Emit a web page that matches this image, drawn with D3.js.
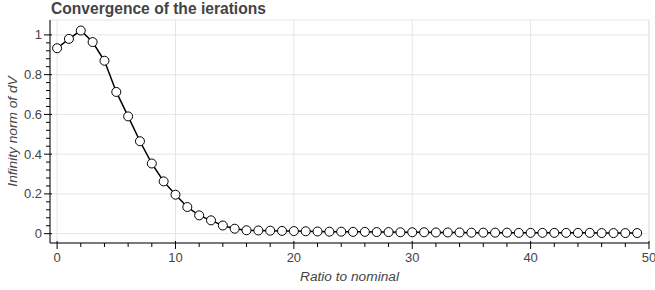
<!DOCTYPE html>
<html>
<head>
<meta charset="UTF-8">
<script src="https://d3js.org/d3.v7.min.js"></script>
<style>
  body { margin: 0; background: #fff; }
  svg { display: block; overflow: visible; }
  text { font-family: "Liberation Sans", Arial, Helvetica, sans-serif; }
</style>
</head>
<body>
<div id="chart"></div>
<script>
const titleText = "Convergence of the ierations";
const xLabel = "Ratio to nominal";
const yLabel = "Infinity norm of dV";

const iterations = d3.range(0, 50);
const dvNorm = [
  0.933, 0.980, 1.022, 0.964, 0.870, 0.713, 0.590, 0.465, 0.353, 0.263,
  0.196, 0.134, 0.092, 0.067, 0.041, 0.025, 0.017, 0.016, 0.015, 0.014,
  0.013, 0.012, 0.011, 0.010, 0.010, 0.009, 0.009, 0.008, 0.008, 0.007,
  0.007, 0.007, 0.006, 0.006, 0.006, 0.005, 0.005, 0.005, 0.005, 0.004,
  0.004, 0.004, 0.004, 0.004, 0.004, 0.004, 0.003, 0.003, 0.003, 0.003
];
const xTicks = [0, 10, 20, 30, 40, 50];
const yTicks = [0, 0.2, 0.4, 0.6, 0.8, 1];

const width = 655, height = 290;
const margin = { top: 20, right: 6, bottom: 47, left: 50 };
const w = width - margin.left - margin.right;
const h = height - margin.top - margin.bottom;

const svg = d3.select("#chart").append("svg")
  .attr("width", width).attr("height", height);

const x = d3.scaleLinear().domain([-0.6, 50]).range([0, w]);
const y = d3.scaleLinear().domain([-0.047, 1.075]).range([h, 0]);

const g = svg.append("g").attr("transform", `translate(${margin.left},${margin.top})`);

// outline + grid
g.append("rect").attr("x", 0).attr("y", 0).attr("width", w).attr("height", h)
  .attr("fill", "none").attr("stroke", "#e5e5e5");
g.selectAll(".gx").data(xTicks).enter().append("line")
  .attr("x1", d => x(d)).attr("x2", d => x(d)).attr("y1", 0).attr("y2", h)
  .attr("stroke", "#e5e5e5");
g.selectAll(".gy").data(yTicks).enter().append("line")
  .attr("x1", 0).attr("x2", w).attr("y1", d => y(d)).attr("y2", d => y(d))
  .attr("stroke", "#e5e5e5");

// axes
const xMinor = d3.range(0, 51, 2).filter(d => d % 10 !== 0);
const yMinor = d3.range(0, 26).map(i => +(i * 0.04).toFixed(2)).filter(d => Math.round(d * 100) % 20 !== 0);

const xAxis = g.append("g").attr("transform", `translate(0,${h})`);
xAxis.append("line").attr("x1", 0).attr("x2", w).attr("stroke", "#000");
xAxis.selectAll(".mj").data(xTicks).enter().append("line")
  .attr("x1", d => x(d)).attr("x2", d => x(d)).attr("y1", -2).attr("y2", 6).attr("stroke", "#000");
xAxis.selectAll(".mn").data(xMinor).enter().append("line")
  .attr("x1", d => x(d)).attr("x2", d => x(d)).attr("y1", 0).attr("y2", 4).attr("stroke", "#000");
xAxis.selectAll(".lb").data(xTicks).enter().append("text")
  .attr("x", d => x(d)).attr("y", 19).attr("text-anchor", "middle")
  .attr("font-size", 13).attr("fill", "#444").text(d => d);

const yAxis = g.append("g");
yAxis.append("line").attr("y1", 0).attr("y2", h).attr("stroke", "#000");
yAxis.selectAll(".mj").data(yTicks).enter().append("line")
  .attr("y1", d => y(d)).attr("y2", d => y(d)).attr("x1", 2).attr("x2", -6).attr("stroke", "#000");
yAxis.selectAll(".mn").data(yMinor).enter().append("line")
  .attr("y1", d => y(d)).attr("y2", d => y(d)).attr("x1", 0).attr("x2", -4).attr("stroke", "#000");
yAxis.selectAll(".lb").data(yTicks).enter().append("text")
  .attr("x", -8).attr("y", d => y(d)).attr("dy", "0.35em").attr("text-anchor", "end")
  .attr("font-size", 13).attr("fill", "#444").text(d => d);

// labels
svg.append("text").attr("x", margin.left + w / 2).attr("y", 281)
  .attr("text-anchor", "middle").attr("font-size", 13.7).attr("font-style", "italic")
  .attr("fill", "#444").text(xLabel);
svg.append("text").attr("transform", `translate(17,${margin.top + h / 2}) rotate(-90)`)
  .attr("text-anchor", "middle").attr("font-size", 13.7).attr("font-style", "italic")
  .attr("fill", "#444").text(yLabel);
svg.append("text").attr("x", margin.left + 1).attr("y", 13.5)
  .attr("font-size", 15.6).attr("font-weight", "bold").attr("fill", "#444").text(titleText);

// series
const pts = iterations.map((d, i) => ({ x: d, y: dvNorm[i] }));
g.append("path").datum(pts)
  .attr("fill", "none").attr("stroke", "#000").attr("stroke-width", 1.5)
  .attr("d", d3.line().x(d => x(d.x)).y(d => y(d.y)));
g.selectAll(".pt").data(pts).enter().append("circle")
  .attr("cx", d => x(d.x)).attr("cy", d => y(d.y)).attr("r", 4.5)
  .attr("fill", "#fff").attr("stroke", "#000").attr("stroke-width", 1);
</script>
</body>
</html>
